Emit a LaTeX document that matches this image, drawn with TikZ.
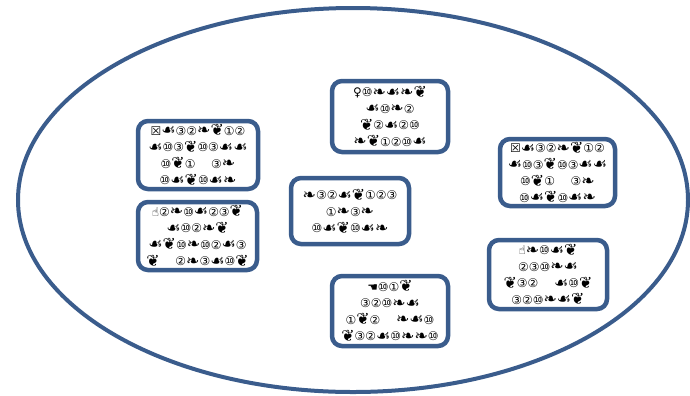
\documentclass[tikz,border=0pt]{standalone}
\usepackage{fontspec}
\newfontfamily\dvs{DejaVu Sans}
\definecolor{rim}{HTML}{3A5C8C}
\newcommand{\orn}[1]{{\fontsize{16}{0}\selectfont\raisebox{-0.5bp}{#1}}}
\newcommand{\wgA}{\orn{☙}}
\newcommand{\wgB}{\orn{❧}}
\newcommand{\wgC}{\orn{❦}}
\newcommand{\wgD}{\orn{❧}}
\tikzset{
  cell/.style={draw=rim, line width=4.5bp, rounded corners=10bp, fill=white,
    align=center, inner sep=0pt, font=\dvs\fontsize{12}{16.5}\selectfont},
}
\begin{document}
\begin{tikzpicture}[x=1bp,y=-1bp]
\useasboundingbox (0,0) rectangle (690,395);
\draw[rim, line width=4bp] (353,200) ellipse [x radius=335, y radius=192];
\node[cell, minimum width=120bp, minimum height=68bp] (b1) at (198,155)
  {☒\wgA③②\wgB\wgC①②\\ \wgA⑩③\wgC⑩③\wgA\wgA\\ ⑩\wgC①\quad\ ③\wgB\\ ⑩\wgA\wgC⑩\wgA\wgB};
\node[cell, minimum width=119bp, minimum height=68bp] (b2) at (197.5,236)
  {☝②\wgB⑩\wgA②③\wgC\\ \wgA⑩②\wgB\wgC\\ \wgA\wgC⑩\wgB⑩②\wgA③\\ \wgC\quad\ ②\wgB③\wgA⑩\wgC};
\node[cell, minimum width=116bp, minimum height=71bp] (b3) at (390,116.5)
  {♀⑩\wgB\wgA\wgD\wgC\\ \wgA⑩\wgB②\\ \wgC②\wgA②⑩\\ \wgB\wgC①②⑩\wgA};
\node[cell, minimum width=118bp, minimum height=66bp] (b4) at (350,211)
  {\wgB③②\wgA\wgC①②③\\ ①\wgB③\wgB\\ ⑩\wgA\wgC⑩\wgA\wgB};
\node[cell, minimum width=116bp, minimum height=70bp] (b5) at (390,311)
  {☚⑩①\wgC\\ ③②⑩\wgB\wgA\\ ①\wgC②\quad\ \wgB\wgA⑩\\ \wgC③②\wgA⑩\wgB\wgB⑩};
\node[cell, minimum width=115bp, minimum height=67bp] (b6) at (557.5,172.5)
  {☒\wgA③②\wgB\wgC①②\\ \wgA⑩③\wgC⑩③\wgA\wgA\\ ⑩\wgC①\quad\ ③\wgB\\ ⑩\wgA\wgC⑩\wgA\wgB};
\node[cell, minimum width=118bp, minimum height=69bp] (b7) at (548,274.5)
  {☝\wgB⑩\wgA\wgC\\ ②③⑩\wgB\wgA\\ \wgC③②\quad\ \wgA⑩\wgC\\ ③②⑩\wgB\wgA\wgC};
\end{tikzpicture}
\end{document}
